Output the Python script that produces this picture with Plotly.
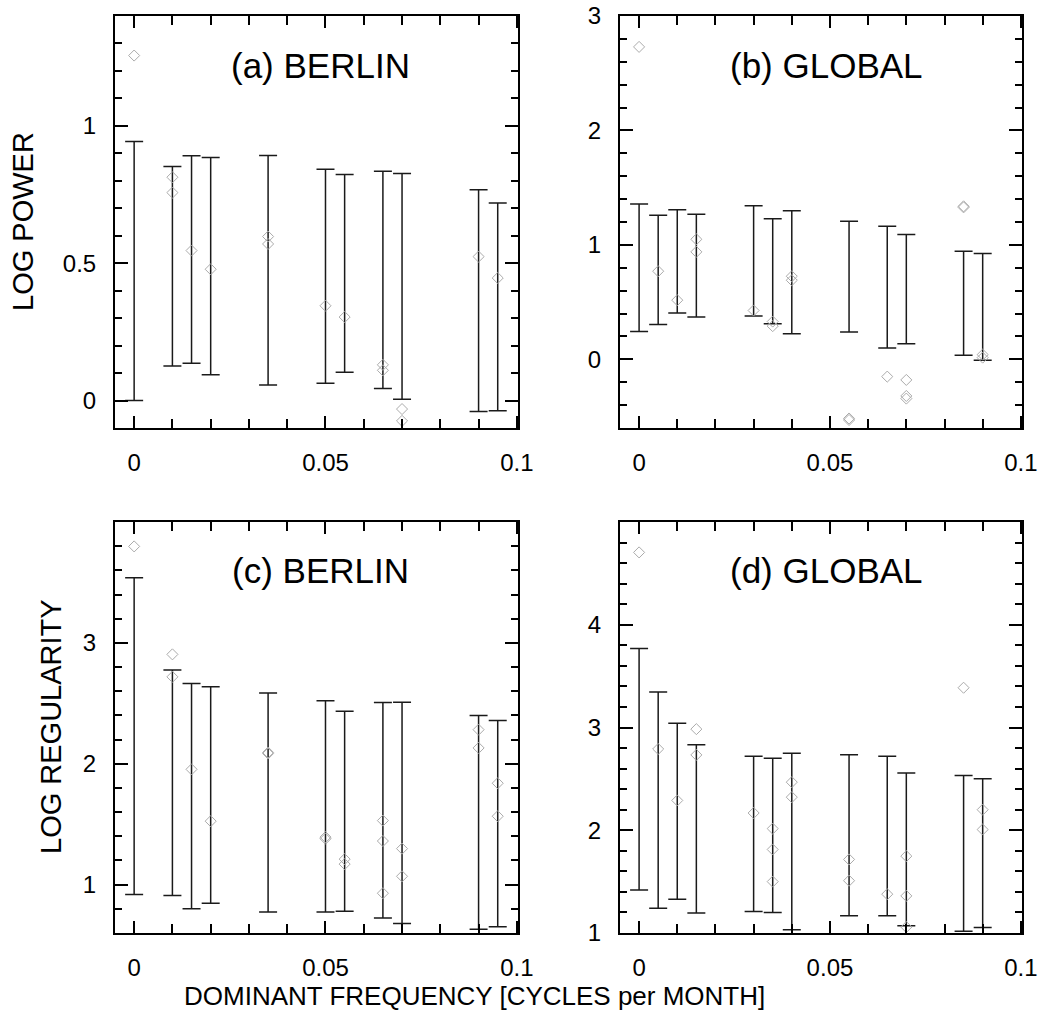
import plotly.graph_objects as go
from plotly.subplots import make_subplots

# ---------------- data ----------------
freq_berlin = [0, 0.01, 0.015, 0.02, 0.035, 0.05, 0.055, 0.065, 0.07, 0.09, 0.095]
freq_global = [0, 0.005, 0.01, 0.015, 0.03, 0.035, 0.04, 0.055, 0.065, 0.07, 0.085, 0.09]

power_berlin_lo = [0.00, 0.126, 0.136, 0.094, 0.057, 0.063, 0.103, 0.044, 0.005, -0.040, -0.037]
power_berlin_hi = [0.943, 0.852, 0.891, 0.885, 0.892, 0.842, 0.823, 0.835, 0.827, 0.767, 0.719]
power_berlin_pts_x = [0, 0.01, 0.01, 0.015, 0.02, 0.035, 0.035, 0.05, 0.055, 0.065, 0.065,
                      0.07, 0.07, 0.09, 0.095]
power_berlin_pts_y = [1.256, 0.813, 0.757, 0.546, 0.478, 0.597, 0.570, 0.345, 0.304, 0.13, 0.11,
                      -0.031, -0.074, 0.524, 0.446]

power_global_lo = [0.244, 0.305, 0.404, 0.369, 0.378, 0.311, 0.224, 0.238, 0.099, 0.137, 0.035, -0.009]
power_global_hi = [1.357, 1.258, 1.308, 1.267, 1.343, 1.229, 1.299, 1.206, 1.162, 1.090, 0.944, 0.924]
power_global_pts_x = [0, 0.005, 0.01, 0.015, 0.015, 0.03, 0.035, 0.035, 0.04, 0.04, 0.055, 0.055,
                      0.065, 0.07, 0.07, 0.07, 0.085, 0.085, 0.09, 0.09]
power_global_pts_y = [2.73, 0.770, 0.517, 1.049, 0.939, 0.427, 0.33, 0.29, 0.726, 0.691, -0.517, -0.53,
                      -0.151, -0.18, -0.32, -0.343, 1.337, 1.328, 0.041, 0.015]

reg_berlin_lo = [0.918, 0.910, 0.801, 0.847, 0.774, 0.774, 0.779, 0.724, 0.678, 0.631, 0.651]
reg_berlin_hi = [3.539, 2.776, 2.664, 2.637, 2.585, 2.522, 2.434, 2.506, 2.508, 2.399, 2.358]
reg_berlin_pts_x = [0, 0.01, 0.01, 0.015, 0.02, 0.035, 0.035, 0.05, 0.05, 0.055, 0.055,
                    0.065, 0.065, 0.065, 0.07, 0.07, 0.09, 0.09, 0.095, 0.095]
reg_berlin_pts_y = [3.798, 2.905, 2.719, 1.954, 1.525, 2.093, 2.085, 1.393, 1.380, 1.211, 1.170,
                    1.530, 1.361, 0.929, 1.298, 1.069, 2.282, 2.131, 1.839, 1.566]

reg_global_lo = [1.419, 1.242, 1.329, 1.194, 1.209, 1.200, 1.032, 1.167, 1.167, 1.071, 1.016, 1.054]
reg_global_hi = [3.769, 3.345, 3.042, 2.833, 2.720, 2.700, 2.749, 2.736, 2.720, 2.558, 2.532, 2.500]
reg_global_pts_x = [0, 0.005, 0.01, 0.015, 0.015, 0.03, 0.035, 0.035, 0.035, 0.04, 0.04, 0.055, 0.055,
                    0.065, 0.07, 0.07, 0.07, 0.085, 0.09, 0.09]
reg_global_pts_y = [4.704, 2.791, 2.290, 2.984, 2.733, 2.168, 2.016, 1.813, 1.500, 2.468, 2.322, 1.716,
                    1.509, 1.378, 1.748, 1.361, 1.058, 3.387, 2.200, 2.007]

panel_titles = ["(a) BERLIN", "(b) GLOBAL", "(c) BERLIN", "(d) GLOBAL"]
x_tickvals = [0, 0.05, 0.1]
x_ticktext = ["0", "0.05", "0.1"]

# ---------------- figure ----------------
W, H = 1041, 1019
FONT = "Liberation Sans, Arial, sans-serif"

fig = make_subplots(rows=2, cols=2)

panels = [
    (1, 1, freq_berlin, power_berlin_lo, power_berlin_hi, power_berlin_pts_x, power_berlin_pts_y,
     [-0.1, 1.4], [0, 0.5, 1], ["0", "0.5", "1"], 0.1),
    (1, 2, freq_global, power_global_lo, power_global_hi, power_global_pts_x, power_global_pts_y,
     [-0.6, 3.0], [0, 1, 2, 3], ["0", "1", "2", "3"], 0.2),
    (2, 1, freq_berlin, reg_berlin_lo, reg_berlin_hi, reg_berlin_pts_x, reg_berlin_pts_y,
     [0.6, 4.0], [1, 2, 3], ["1", "2", "3"], 0.2),
    (2, 2, freq_global, reg_global_lo, reg_global_hi, reg_global_pts_x, reg_global_pts_y,
     [1.0, 5.0], [1, 2, 3, 4], ["1", "2", "3", "4"], 0.2),
]

# pixel domains of the plot areas
xdoms = {1: (115, 518), 2: (620, 1022)}
ydoms = {1: (16, 428), 2: (522, 933)}

for (r, c, fx, lo, hi, px, py, yr, ytv, ytt, ymin) in panels:
    mid = [(a + b) / 2 for a, b in zip(lo, hi)]
    half = [(b - a) / 2 for a, b in zip(lo, hi)]
    fig.add_trace(go.Scatter(
        x=fx, y=mid, mode="markers",
        marker=dict(color="rgba(0,0,0,0)", size=1),
        error_y=dict(type="data", array=half, symmetric=True,
                     color="#1a1a1a", thickness=1.5, width=9),
        showlegend=False, hoverinfo="skip"), row=r, col=c)
    fig.add_trace(go.Scatter(
        x=px, y=py, mode="markers",
        marker=dict(symbol="diamond-open", size=8.5, color="#ababab",
                    line=dict(width=1, color="#ababab")),
        showlegend=False, cliponaxis=False), row=r, col=c)

    x0, x1 = xdoms[c]
    y0, y1 = ydoms[r]
    fig.update_xaxes(
        domain=[x0 / W, x1 / W], range=[-0.005, 0.1003],
        tickvals=x_tickvals, ticktext=x_ticktext,
        ticks="inside", ticklen=12, tickwidth=2, tickcolor="black",
        minor=dict(dtick=0.01, tick0=0, ticks="inside", ticklen=9, tickwidth=1.6, tickcolor="black"),
        showline=True, linecolor="black", linewidth=2, mirror="allticks",
        showgrid=False, zeroline=False, ticklabelstandoff=12,
        tickfont=dict(size=24, color="black", family=FONT),
        row=r, col=c)
    fig.update_yaxes(
        domain=[1 - y1 / H, 1 - y0 / H], range=yr,
        tickvals=ytv, ticktext=ytt,
        ticks="inside", ticklen=13, tickwidth=2, tickcolor="black",
        minor=dict(dtick=ymin, tick0=0, ticks="inside", ticklen=7, tickwidth=1.6, tickcolor="black"),
        showline=True, linecolor="black", linewidth=2, mirror="allticks",
        showgrid=False, zeroline=False, ticklabelstandoff=12,
        tickfont=dict(size=24, color="black", family=FONT),
        row=r, col=c)

annotations = []
title_pos = [(320, 65), (826, 65), (320, 570), (826, 570)]
for t, (ax, ay) in zip(panel_titles, title_pos):
    annotations.append(dict(text=t, x=ax / W, y=1 - ay / H, xref="paper", yref="paper",
                            xanchor="center", yanchor="middle", showarrow=False,
                            font=dict(size=35, color="black", family=FONT)))
annotations.append(dict(text="LOG POWER", x=23 / W, y=1 - 222 / H, xref="paper", yref="paper",
                        textangle=-90, xanchor="center", yanchor="middle", showarrow=False,
                        font=dict(size=29, color="black", family=FONT)))
annotations.append(dict(text="LOG REGULARITY", x=51 / W, y=1 - 727 / H, xref="paper", yref="paper",
                        textangle=-90, xanchor="center", yanchor="middle", showarrow=False,
                        font=dict(size=29, color="black", family=FONT)))
annotations.append(dict(text="DOMINANT FREQUENCY [CYCLES per MONTH]", x=474 / W, y=1 - 996 / H,
                        xref="paper", yref="paper", xanchor="center", yanchor="middle",
                        showarrow=False, font=dict(size=26, color="black", family=FONT)))

fig.update_layout(
    width=W, height=H,
    margin=dict(l=0, r=0, t=0, b=0, autoexpand=False),
    paper_bgcolor="white", plot_bgcolor="white",
    annotations=annotations,
    font=dict(family=FONT, color="black"),
)

fig.write_html("out.html",
               config={"displayModeBar": False},
               post_script="document.body.style.margin='0';document.body.style.overflow='hidden';")
